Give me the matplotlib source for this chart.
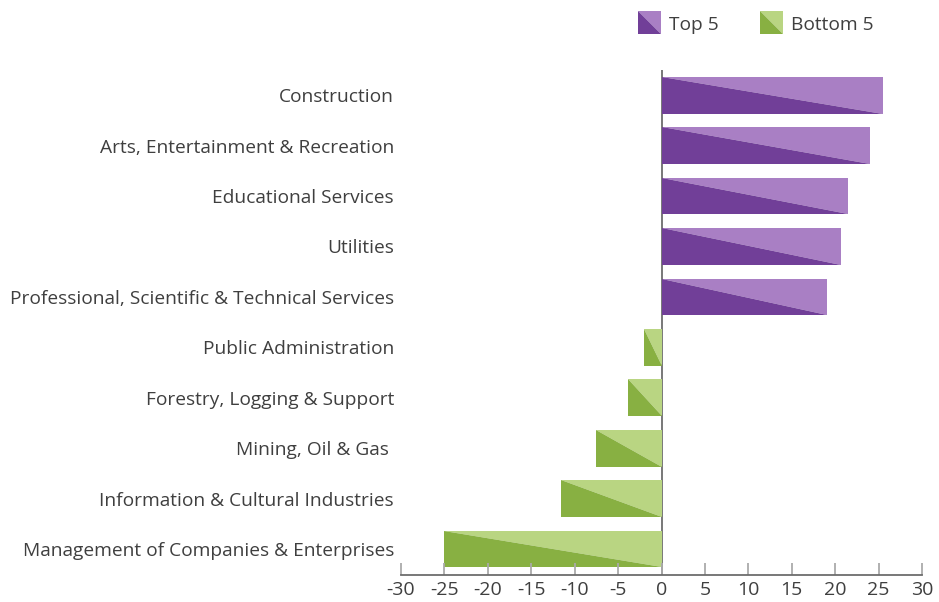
import matplotlib.pyplot as plt
from matplotlib.patches import Polygon

plt.rcParams['font.family'] = ['Open Sans', 'DejaVu Sans']

# data, top row first
categories = ["Construction", "Arts, Entertainment & Recreation", "Educational Services",
              "Utilities", "Professional, Scientific & Technical Services",
              "Public Administration", "Forestry, Logging & Support", "Mining, Oil & Gas ",
              "Information & Cultural Industries", "Management of Companies & Enterprises"]
values = [25.5, 24.0, 21.5, 20.7, 19.1, -2.0, -3.9, -7.6, -11.6, -25.1]
groups = ["Top 5"] * 5 + ["Bottom 5"] * 5
xticks = [-30, -25, -20, -15, -10, -5, 0, 5, 10, 15, 20, 25, 30]

COLORS = {"Top 5": ("#713f98", "#a97fc4"), "Bottom 5": ("#88b042", "#b9d582")}
TXT = "#3f3f3f"

W, H = 939, 602
fig = plt.figure(figsize=(W / 100, H / 100), dpi=100)
ax = fig.add_axes([401 / W, 1 - 575 / H, (922 - 401) / W, (575 - 70) / H])

n = len(categories)
h = 0.73
for i, (v, g) in enumerate(zip(values, groups)):
    y = n - 1 - i
    left, right = min(0, v), max(0, v)
    top, bot = y + h / 2, y - h / 2
    dark, light = COLORS[g]
    ax.add_patch(Polygon([(left, top), (right, top), (right, bot)], closed=True,
                         facecolor=light, edgecolor="none"))
    ax.add_patch(Polygon([(left, top), (left, bot), (right, bot)], closed=True,
                         facecolor=dark, edgecolor="none"))

ax.set_xlim(-30, 30)
ax.set_ylim(-0.515, n - 0.5)
ax.axvline(0, color="#6d6d6d", lw=1.3, zorder=0)

ax.set_yticks(range(n))
ax.set_yticklabels(categories[::-1], fontsize=13.8, color=TXT)
ax.tick_params(axis="y", length=0, pad=5)
ax.set_xticks(xticks)
ax.set_xticklabels([str(t) for t in xticks], fontsize=14, color=TXT)
ax.tick_params(axis="x", direction="in", length=9, width=1.3, color="#aaaaaa", pad=4)

for s in ["top", "right", "left"]:
    ax.spines[s].set_visible(False)
ax.spines["bottom"].set_color("#6d6d6d")
ax.spines["bottom"].set_linewidth(1.3)

# legend drawn by hand: square split on the diagonal
def legend_box(x0, y0, size, dark, light, label):
    fx = lambda px: px / W
    fy = lambda py: 1 - py / H
    fig.add_artist(Polygon([(fx(x0), fy(y0)), (fx(x0 + size), fy(y0)), (fx(x0 + size), fy(y0 + size))],
                           closed=True, facecolor=light, edgecolor="none", transform=fig.transFigure))
    fig.add_artist(Polygon([(fx(x0), fy(y0)), (fx(x0), fy(y0 + size)), (fx(x0 + size), fy(y0 + size))],
                           closed=True, facecolor=dark, edgecolor="none", transform=fig.transFigure))
    fig.text(fx(x0 + size + 8), fy(y0 + size / 2 + 3), label, fontsize=13.8, color=TXT,
             va="center", ha="left")

legend_box(638, 11, 23, *COLORS["Top 5"], "Top 5")
legend_box(760, 11, 23, *COLORS["Bottom 5"], "Bottom 5")

fig.savefig("out.png", dpi=100)
